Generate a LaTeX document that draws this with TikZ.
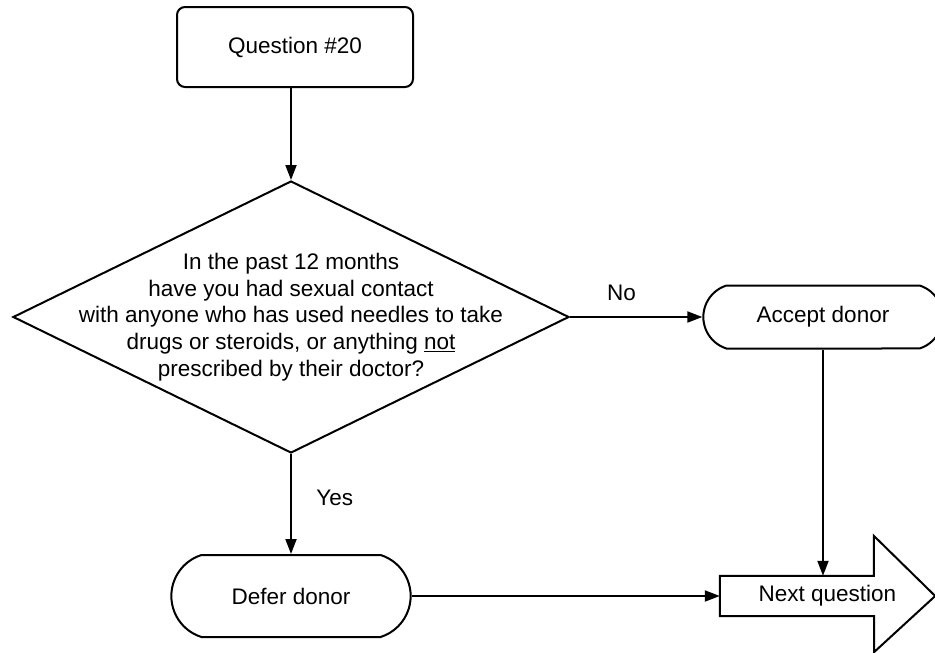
\documentclass[tikz,border=0pt]{standalone}
\usepackage{fontspec}
\setmainfont{Liberation Sans}
\usetikzlibrary{shapes.geometric,shapes.misc,arrows.meta,positioning}
\tikzset{
  every node/.style={font=\fontsize{22.5}{26.7}\selectfont},
  startbox/.style={draw, line width=2pt, rounded corners=8pt,
    minimum width=236pt, minimum height=80pt},
  decision/.style={draw, diamond, line width=2pt, inner sep=0pt,
    minimum width=556pt, minimum height=272pt},
  terminal/.style={draw, rounded rectangle, rounded rectangle arc length=145,
    line width=2pt, minimum width=246pt},
  nextbox/.style={inner sep=0pt, minimum width=215pt, minimum height=40pt,
    text height=15pt, text depth=5pt},
  flow/.style={-{Triangle[length=15pt,width=11pt]}, line width=2pt},
}

\begin{document}
\begin{tikzpicture}[x=1pt, y=-1pt]
      \useasboundingbox (0,0) rectangle (935,653);

      % Start box
      \node[startbox] (start) at (295,47) {Question \#20};

      % Decision diamond with its question
      \node[decision] (quest) at (291,317) {};
      \node[align=center] (questtext) at (quest.center) {In the past 12 months\\
        have you had sexual contact\\
        with anyone who has used needles to take\\
        drugs or steroids, or anything \underline{not}\\
        prescribed by their doctor?};

      % Outcomes
      \node[terminal, minimum height=63pt] (accept) at (823,317) {Accept donor};
      \node[terminal, minimum height=82pt] (defer) at (291,596) {Defer donor};

      % Block arrow round the last text
      \node[nextbox] (next) at (827.5,596) {Next question};
      \draw[line width=2pt] (next.north west) -- ++(154,0) -- ++(0,-40)
        -- (next.east) -- ++(-61,56) -- ++(0,-36) -- (next.south west) -- cycle;

      % Connectors
      \draw[flow] (start.south -| quest.north) -- (quest.north);
      \draw[flow] (quest.east) -- node[pos=0.39, above=12pt] (nolabel) {No} (accept.west);
      \draw[flow] (quest.south) -- node[pos=0.44, right=21pt] (yeslabel) {Yes} (defer.north);
      \draw[flow] (accept.south) -- (accept.south |- next.north);
      \draw[flow] (defer.east) -- (next.west);
    \end{tikzpicture}
\end{document}
